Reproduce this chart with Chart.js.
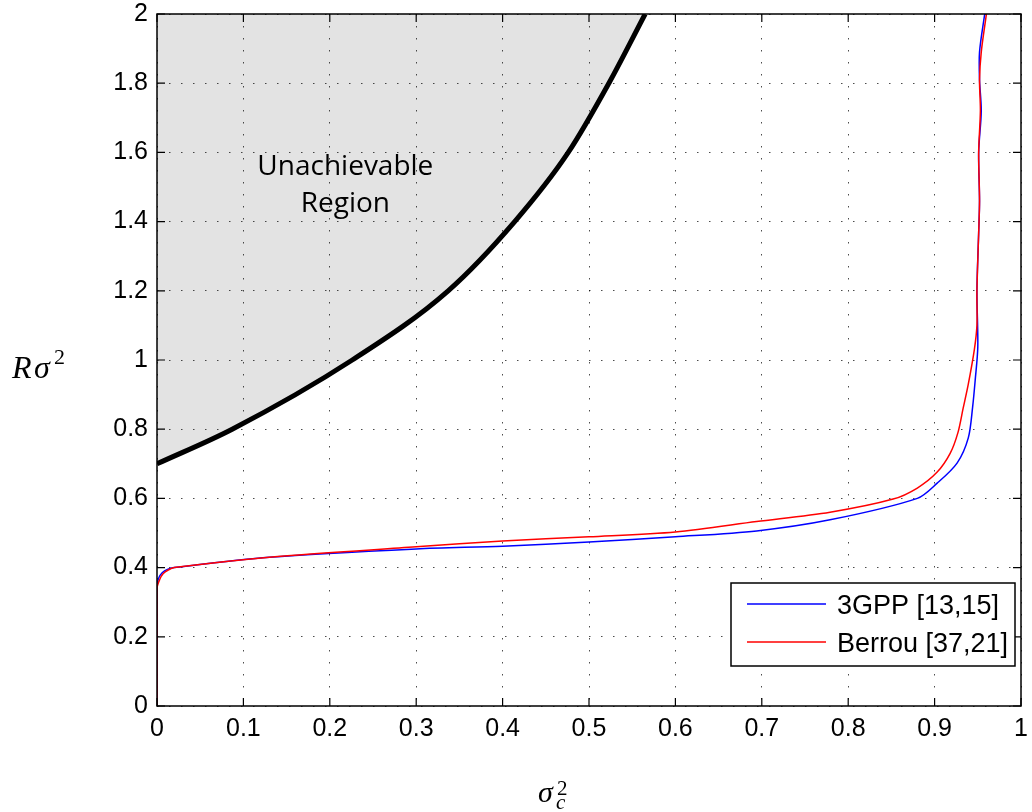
<!DOCTYPE html>
<html>
<head>
<meta charset="utf-8">
<script src="https://cdn.jsdelivr.net/npm/chart.js@4"></script>
<style>
  html, body { margin: 0; padding: 0; background: #fff; }
  #wrap { position: relative; width: 1032px; height: 812px; }
</style>
</head>
<body>
<div id="wrap"><canvas id="limitChart" width="1032" height="812"></canvas></div>
<script>
// tick labels
const xTickLabels = ["0", "0.1", "0.2", "0.3", "0.4", "0.5", "0.6", "0.7", "0.8", "0.9", "1"];
const yTickLabels = ["0", "0.2", "0.4", "0.6", "0.8", "1", "1.2", "1.4", "1.6", "1.8", "2"];

// boundary of the unachievable region
const boundX = [0, 0.087, 0.226, 0.337, 0.414, 0.476, 0.523, 0.565];
const boundY = [0.70, 0.80, 1.00, 1.20, 1.40, 1.60, 1.80, 2.00];

// 3GPP [13,15]
const gppX = [0, 0, 0.002, 0.006, 0.012, 0.02, 0.13, 0.3, 0.4, 0.5, 0.6, 0.694, 0.779, 0.88, 0.903, 0.926, 0.939, 0.944, 0.947, 0.950, 0.949, 0.951, 0.952, 0.951, 0.954, 0.952, 0.952, 0.958];
const gppY = [0, 0.35, 0.37, 0.385, 0.395, 0.40, 0.43, 0.454, 0.462, 0.474, 0.489, 0.506, 0.538, 0.60, 0.644, 0.702, 0.775, 0.864, 0.942, 1.038, 1.20, 1.367, 1.46, 1.60, 1.72, 1.81, 1.89, 2.00];

// Berrou [37,21]
const berrouX = [0, 0, 0.003, 0.007, 0.013, 0.02, 0.13, 0.3, 0.4, 0.5, 0.6, 0.694, 0.779, 0.852, 0.88, 0.903, 0.918, 0.927, 0.933, 0.939, 0.946, 0.949, 0.949, 0.951, 0.952, 0.951, 0.953, 0.952, 0.954, 0.960];
const berrouY = [0, 0.34, 0.365, 0.382, 0.393, 0.40, 0.43, 0.46, 0.477, 0.489, 0.503, 0.533, 0.56, 0.598, 0.63, 0.676, 0.73, 0.79, 0.86, 0.93, 1.03, 1.10, 1.20, 1.367, 1.46, 1.60, 1.72, 1.81, 1.89, 2.00];

const toPoints = (xs, ys) => xs.map((v, i) => ({ x: v, y: ys[i] }));

const tickFont = { family: "'Liberation Sans', Arial, sans-serif", size: 25 };

// box, inward ticks, labels, legend and axis titles
const framePlugin = {
    id: "frame",
    afterDraw(chart) {
        const { ctx, chartArea: a, scales } = chart;
        const xs = scales.x, ys = scales.y;
        ctx.save();

        // axes box
        ctx.strokeStyle = "#000";
        ctx.lineWidth = 1.5;
        ctx.strokeRect(a.left, a.top, a.right - a.left, a.bottom - a.top);

        // ticks pointing inward on all four sides
        ctx.lineWidth = 1.2;
        ctx.beginPath();
        xs.ticks.forEach((t) => {
            const px = xs.getPixelForValue(t.value);
            ctx.moveTo(px, a.bottom); ctx.lineTo(px, a.bottom - 8);
            ctx.moveTo(px, a.top); ctx.lineTo(px, a.top + 8);
        });
        ys.ticks.forEach((t) => {
            const py = ys.getPixelForValue(t.value);
            ctx.moveTo(a.left, py); ctx.lineTo(a.left + 8, py);
            ctx.moveTo(a.right, py); ctx.lineTo(a.right - 8, py);
        });
        ctx.stroke();

        // region label
        ctx.fillStyle = "#000";
        ctx.textAlign = "center";
        ctx.textBaseline = "alphabetic";
        ctx.font = "28px 'Open Sans', 'DejaVu Sans', sans-serif";
        const cx = xs.getPixelForValue(0.218);
        ctx.fillText("Unachievable", cx, ys.getPixelForValue(1.535));
        ctx.fillText("Region", cx, ys.getPixelForValue(1.428));

        // legend
        const lx = a.right - 290, ly = a.bottom - 123, lw = 284, lh = 83;
        ctx.fillStyle = "#fff";
        ctx.fillRect(lx, ly, lw, lh);
        ctx.strokeStyle = "#000";
        ctx.lineWidth = 1.5;
        ctx.strokeRect(lx, ly, lw, lh);
        const items = [
            { label: "3GPP [13,15]", color: "#0000ff", y: ly + 21 },
            { label: "Berrou [37,21]", color: "#ff0000", y: ly + 59 },
        ];
        ctx.font = "27px 'Liberation Sans', Arial, sans-serif";
        ctx.textAlign = "left";
        ctx.textBaseline = "middle";
        items.forEach((it) => {
            ctx.strokeStyle = it.color;
            ctx.lineWidth = 1.3;
            ctx.beginPath();
            ctx.moveTo(lx + 16, it.y);
            ctx.lineTo(lx + 95, it.y);
            ctx.stroke();
            ctx.fillStyle = "#000";
            ctx.fillText(it.label, lx + 106, it.y + 3);
        });

        // axis titles
        ctx.textBaseline = "alphabetic";
        ctx.fillStyle = "#000";
        const serifI = "'Liberation Serif', 'DejaVu Serif', serif";
        ctx.font = "italic 30px " + serifI;
        ctx.fillText("\u03c3", 538, 802);
        ctx.font = "italic 21px " + serifI;
        ctx.fillText("c", 556, 809);
        ctx.font = "21px " + serifI;
        ctx.fillText("2", 557, 795);

        ctx.font = "italic 32px " + serifI;
        ctx.fillText("R", 12, 378);
        ctx.fillText("\u03c3", 34, 378);
        ctx.font = "22px " + serifI;
        ctx.fillText("2", 54, 364);

        ctx.restore();
    },
};

const CTX = document.getElementById("limitChart").getContext("2d");

new Chart(CTX, {
    type: "line",
    data: {
        datasets: [
            {
                label: "Boundary",
                data: toPoints(boundX, boundY),
                borderColor: "#000",
                borderWidth: 5,
                backgroundColor: "rgba(0, 0, 0, 0.11)",
                fill: "end",
                cubicInterpolationMode: "monotone",
                pointRadius: 0,
                order: 3,
            },
            {
                label: "3GPP [13,15]",
                data: toPoints(gppX, gppY),
                borderColor: "#0000ff",
                borderWidth: 1.5,
                fill: false,
                tension: 0.3,
                pointRadius: 0,
                order: 2,
            },
            {
                label: "Berrou [37,21]",
                data: toPoints(berrouX, berrouY),
                borderColor: "#ff0000",
                borderWidth: 1.5,
                fill: false,
                tension: 0.3,
                pointRadius: 0,
                order: 1,
            },
        ],
    },
    options: {
        responsive: false,
        animation: false,
        devicePixelRatio: 1,
        layout: { padding: { left: 0, top: 14, right: 11, bottom: 0 } },
        plugins: {
            legend: { display: false },
            tooltip: { enabled: false },
        },
        scales: {
            x: {
                type: "linear",
                min: 0,
                max: 1,
                afterFit: (s) => { s.height = 106; s.paddingLeft = 0; s.paddingRight = 0; },
                ticks: {
                    stepSize: 0.1,
                    font: tickFont,
                    color: "#000",
                    padding: 8,
                    maxRotation: 0,
                    callback: (v, i) => xTickLabels[i],
                },
                grid: { color: "rgba(0,0,0,0.7)", lineWidth: 1, drawTicks: false },
                border: { display: false, dash: [1.5, 10.5] },
            },
            y: {
                type: "linear",
                min: 0,
                max: 2,
                afterFit: (s) => { s.width = 157; s.paddingTop = 0; s.paddingBottom = 0; },
                ticks: {
                    stepSize: 0.2,
                    font: tickFont,
                    color: "#000",
                    padding: 9,
                    callback: (v, i) => yTickLabels[i],
                },
                grid: { color: "rgba(0,0,0,0.7)", lineWidth: 1, drawTicks: false },
                border: { display: false, dash: [1.5, 10.5] },
            },
        },
    },
    plugins: [framePlugin],
});
</script>
</body>
</html>
